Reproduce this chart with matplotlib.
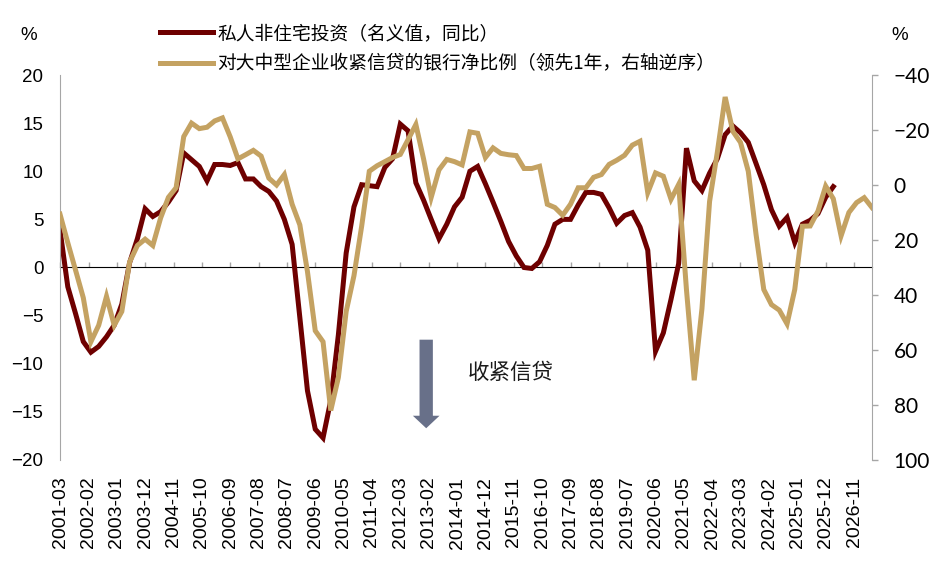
import pandas as pd
import matplotlib
matplotlib.use("Agg")
import matplotlib.pyplot as plt
import matplotlib.dates as mdates
from matplotlib.font_manager import FontProperties

# 私人非住宅投资（名义值，同比），季度，起点 2001-03
invest_yoy = [3.9, -2.0, -4.8, -7.7, -8.8, -8.2, -7.2, -6.0, -3.8, 0.5,
              3.0, 6.1, 5.3, 5.8, 6.8, 8.0, 11.9, 11.2, 10.5, 9.0,
              10.7, 10.7, 10.6, 10.9, 9.2, 9.2, 8.4, 7.9, 6.9, 5.0,
              2.4, -5.2, -12.8, -16.8, -17.7, -13.8, -7.0, 1.5, 6.3, 8.6,
              8.5, 8.4, 10.4, 11.3, 14.9, 14.2, 8.8, 7.0, 5.0, 3.0,
              4.5, 6.3, 7.3, 10.0, 10.5, 8.7, 6.8, 4.8, 2.7, 1.2,
              0.0, -0.1, 0.6, 2.3, 4.5, 5.0, 5.0, 6.5, 7.8, 7.8,
              7.6, 6.2, 4.6, 5.4, 5.7, 4.2, 1.8, -8.7, -6.8, -3.3,
              0.4, 12.4, 9.0, 8.0, 9.8, 11.3, 13.8, 14.7, 14.0, 13.0,
              10.8, 8.6, 6.0, 4.3, 5.2, 2.6, 4.5, 4.9, 5.6, 7.3,
              8.4]

# 对大中型企业收紧信贷的银行净比例（领先1年），季度，起点 2001-03
tighten_net = [10.6, 21.0, 31.0, 41.0, 57.0, 51.0, 40.5, 51.0, 46.0, 28.0,
               22.0, 19.7, 22.0, 12.0, 4.5, 1.0, -17.6, -22.5, -20.5, -21.0,
               -23.3, -24.4, -17.5, -9.5, -11.0, -12.6, -10.5, -2.5, 0.0, -3.8,
               7.0, 14.5, 31.5, 53.0, 57.0, 82.0, 70.0, 46.0, 33.0, 15.0,
               -5.0, -7.0, -8.5, -10.0, -11.1, -16.5, -22.0, -9.5, 4.5, -5.5,
               -9.3, -8.5, -7.3, -19.3, -18.8, -10.0, -13.5, -11.5, -11.0, -10.7,
               -6.0, -6.0, -6.8, 7.0, 8.2, 11.0, 7.0, 1.0, 1.0, -2.8,
               -3.8, -7.5, -9.0, -10.8, -14.5, -15.9, 2.8, -4.4, -3.2, 5.2,
               -0.2, 38.0, 71.0, 45.0, 6.0, -12.0, -32.0, -19.5, -15.5, -5.0,
               18.0, 38.0, 43.5, 45.5, 50.5, 38.0, 15.0, 14.9, 9.5, 0.4,
               5.0, 18.5, 10.0, 6.4, 4.6, 8.2]

label_invest = "私人非住宅投资（名义值，同比）"
label_tighten = "对大中型企业收紧信贷的银行净比例（领先1年，右轴逆序）"

invest_dates = pd.date_range("2001-03-01", periods=len(invest_yoy), freq="3MS")
tighten_dates = pd.date_range("2001-03-01", periods=len(tighten_net), freq="3MS")
tick_dates = pd.date_range("2001-03-01", "2026-11-01", freq="11MS")

red = "#6E0000"
gold = "#C4A262"
grey = "#A6A6A6"
cjk = ["Noto Sans CJK SC", "DejaVu Sans"]

fig = plt.figure(figsize=(9.5, 5.67), dpi=100)
ax = fig.add_axes([60 / 950, 1 - 460 / 567, 812 / 950, 385 / 567])
ax2 = ax.twinx()

l1, = ax.plot(invest_dates, invest_yoy, color=red, lw=3.6, solid_joinstyle="miter")
l2, = ax2.plot(tighten_dates, tighten_net, color=gold, lw=3.6, solid_joinstyle="miter")

ax.set_xlim(tighten_dates[0], tighten_dates[-1])
ax.set_ylim(-20, 20)
ax.set_yticks(range(-20, 21, 5))
ax2.set_ylim(100, -40)
ax2.set_yticks(range(-40, 101, 20))

ax.set_xticks(tick_dates)
ax.xaxis.set_major_formatter(mdates.DateFormatter("%Y-%m"))
ax.tick_params(axis="x", length=0, pad=12, rotation=90, labelsize=14)
ax.tick_params(axis="y", length=0, pad=12, labelsize=13.5)
for t in ax.get_xticklabels() + ax.get_yticklabels():
    t.set_fontfamily("Liberation Sans")

ax2.tick_params(axis="y", direction="out", length=4.5, width=1, color=grey, pad=11, labelsize=15)
for t in ax2.get_yticklabels():
    t.set_fontfamily("Lato")

for a in (ax, ax2):
    for s in ("top", "bottom"):
        a.spines[s].set_visible(False)
ax.spines["right"].set_visible(False)
ax.spines["left"].set_color(grey)
ax2.spines["left"].set_visible(False)
ax2.spines["right"].set_color(grey)

# 零轴及刻度
zero = ax.secondary_xaxis(0.5)
zero.set_xticks(mdates.date2num(tick_dates))
zero.set_xticklabels([])
zero.tick_params(axis="x", direction="out", length=3.6, color=grey, width=1)
zero.spines["bottom"].set_color(grey)
zero.spines["bottom"].set_linewidth(1.2)

fig.text(29 / 950, 1 - 35 / 567, "%", ha="center", va="center", fontsize=13.5, family="Liberation Sans")
fig.text(900 / 950, 1 - 35 / 567, "%", ha="center", va="center", fontsize=13.5, family="Liberation Sans")

fig.legend([l1, l2], [label_invest, label_tighten], loc="upper left",
           bbox_to_anchor=(160 / 950, 1 - 23 / 567), frameon=False,
           handlelength=2.8, handletextpad=0.25, labelspacing=0.5,
           borderpad=0, borderaxespad=0, prop=FontProperties(family=cjk, size=13.5))

ax.annotate("", xy=(pd.Timestamp("2013-01-01"), -16.7), xytext=(pd.Timestamp("2013-01-01"), -7.5),
            arrowprops=dict(arrowstyle="simple,head_length=0.75,head_width=1.6,tail_width=0.8",
                            mutation_scale=12, color="#687089", shrinkA=0, shrinkB=0, lw=0))
ax.text(pd.Timestamp("2014-05-01"), -11.0, "收紧信贷", fontsize=15.5, family=cjk,
        va="center", ha="left", color="#1A1A1A")

fig.savefig("out.png", dpi=100)
